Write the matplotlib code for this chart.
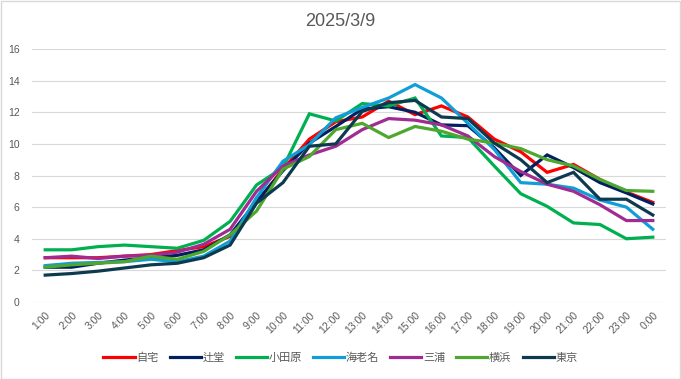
import numpy as np
import matplotlib.pyplot as plt
from matplotlib.patches import Rectangle

plt.rcParams['font.family'] = ['Liberation Sans', 'Noto Sans CJK JP', 'DejaVu Sans']

hours = ['1:00', '2:00', '3:00', '4:00', '5:00', '6:00', '7:00', '8:00', '9:00', '10:00',
         '11:00', '12:00', '13:00', '14:00', '15:00', '16:00', '17:00', '18:00', '19:00',
         '20:00', '21:00', '22:00', '23:00', '0:00']

jitaku = [2.8, 2.8, 2.8, 2.9, 3.0, 3.25, 3.5, 4.15, 6.3, 8.4, 10.3, 11.4,
          11.7, 12.7, 11.85, 12.4, 11.7, 10.3, 9.5, 8.2, 8.7, 7.75, 6.95, 6.3]
tsujido = [2.2, 2.2, 2.45, 2.65, 2.8, 2.95, 3.3, 4.25, 6.35, 8.3, 10.05, 11.1,
           12.2, 12.35, 12.0, 11.2, 11.15, 9.75, 8.0, 9.3, 8.5, 7.55, 6.9, 6.2]
odawara = [3.3, 3.3, 3.5, 3.6, 3.5, 3.4, 3.9, 5.1, 7.4, 8.5, 11.9, 11.45,
           12.55, 12.4, 12.9, 10.5, 10.4, 8.6, 6.85, 6.05, 5.0, 4.9, 4.0, 4.1]
ebina = [2.3, 2.45, 2.5, 2.55, 2.7, 2.55, 2.9, 3.85, 6.6, 8.9, 9.95, 11.65,
         12.3, 12.9, 13.75, 12.9, 11.3, 9.65, 7.55, 7.45, 7.2, 6.45, 6.0, 4.6]
miura = [2.8, 2.9, 2.75, 2.9, 2.95, 3.15, 3.65, 4.6, 7.0, 8.6, 9.3, 9.85,
         10.9, 11.6, 11.5, 11.2, 10.5, 9.2, 8.25, 7.45, 7.0, 6.15, 5.15, 5.15]
yokohama = [2.2, 2.35, 2.45, 2.55, 2.9, 2.7, 3.2, 4.25, 5.75, 8.4, 9.2, 10.9,
            11.3, 10.4, 11.1, 10.8, 10.3, 10.05, 9.7, 9.0, 8.6, 7.75, 7.05, 7.0]
tokyo = [1.7, 1.8, 1.95, 2.15, 2.35, 2.45, 2.8, 3.6, 6.25, 7.55, 9.85, 10.0,
         12.05, 12.6, 12.75, 11.7, 11.6, 10.05, 9.0, 7.55, 8.2, 6.5, 6.5, 5.5]

names = ['自宅', '辻堂', '小田原', '海老名', '三浦', '横浜', '東京']
series = [jitaku, tsujido, odawara, ebina, miura, yokohama, tokyo]
colors = ['#FF0000', '#002060', '#00B050', '#0F9ED5', '#A02B93', '#4EA72E', '#0E3A50']

gray = '#595959'
fig = plt.figure(figsize=(6.81, 3.79), dpi=100)
ax = fig.add_axes([32 / 681, 1 - 302 / 379, (666 - 32) / 681, (302 - 49) / 379])

x = np.arange(len(hours))
for vals, name, c in zip(series, names, colors):
    ax.plot(x, vals, color=c, lw=2.3, label=name, solid_joinstyle='miter')

ax.set_xlim(-0.5, len(hours) - 0.5)
ax.set_ylim(0, 16)
ax.set_yticks(np.arange(0, 17, 2))
ax.set_xticks(x)
ax.set_xticklabels(hours, rotation=45, ha='right', rotation_mode='anchor')
ax.tick_params(axis='both', length=0, colors=gray, labelsize=7.5)
ax.tick_params(axis='y', pad=9)
ax.tick_params(axis='x', pad=6)
ax.grid(axis='y', color='#D9D9D9', lw=0.8)
ax.set_axisbelow(True)
for s in ax.spines.values():
    s.set_visible(False)

fig.text(0.5, 1 - 22 / 379, '2025/3/9', ha='center', va='center', fontsize=13, color=gray)

fig.legend(loc='center', bbox_to_anchor=(0.5, 1 - 358 / 379), ncol=7, frameon=False,
           fontsize=8, handlelength=2.8, handletextpad=0.15, columnspacing=1.0,
           labelcolor=gray)

fig.patches.append(Rectangle((0.5 / 681, 0.5 / 379), 679.5 / 681, 377.5 / 379,
                             transform=fig.transFigure, fill=False,
                             edgecolor='#D9D9D9', lw=1))

fig.savefig('out.png', dpi=100)
